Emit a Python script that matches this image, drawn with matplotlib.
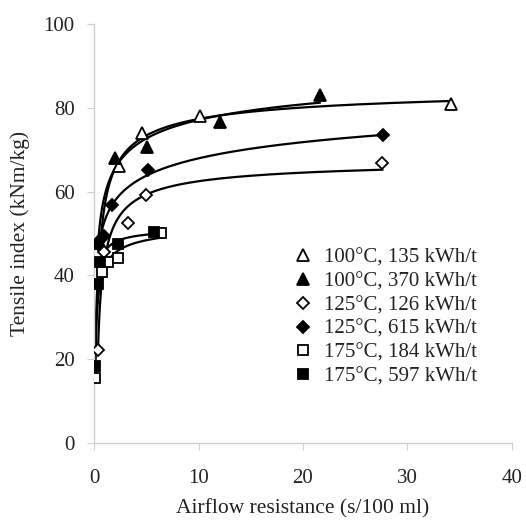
import numpy as np
import matplotlib
matplotlib.use("Agg")
import matplotlib.pyplot as plt

plt.rcParams['font.family'] = ['Liberation Serif', 'DejaVu Serif']

labels = ["100°C, 135 kWh/t", "100°C, 370 kWh/t", "125°C, 126 kWh/t",
          "125°C, 615 kWh/t", "175°C, 184 kWh/t", "175°C, 597 kWh/t"]
markers = ["^", "^", "D", "D", "s", "s"]
filled = [False, True, False, True, False, True]
msizes = [9, 9, 6.5, 6.5, 7.5, 7.5]

x_100_135 = [0.6, 2.4, 4.6, 10.1, 34.2]
y_100_135 = [47.7, 66.0, 74.0, 78.0, 81.0]
x_100_370 = [0.4, 2.0, 5.1, 12.1, 21.6]
y_100_370 = [48.0, 68.0, 70.6, 76.6, 83.0]
x_125_126 = [0.38, 0.9, 3.2, 5.0, 27.6]
y_125_126 = [22.2, 45.6, 52.5, 59.2, 66.8]
x_125_615 = [0.4, 0.95, 1.7, 5.2, 27.7]
y_125_615 = [48.0, 49.4, 56.8, 65.2, 73.5]
x_175_184 = [0.1, 0.74, 1.3, 2.3, 6.4]
y_175_184 = [15.4, 40.9, 43.3, 44.1, 50.0]
x_175_597 = [0.1, 0.35, 0.57, 2.3, 5.7]
y_175_597 = [18.4, 38.0, 43.3, 47.4, 50.4]

xs = [x_100_135, x_100_370, x_125_126, x_125_615, x_175_184, x_175_597]
ys = [y_100_135, y_100_370, y_125_126, y_125_615, y_175_184, y_175_597]


def fit_saturating(x, y):
    """Least squares fit of y = a - b * x**(-c), grid search on c."""
    best = None
    for c in np.linspace(0.1, 1.0, 300):
        A = np.column_stack([np.ones_like(x), -x ** (-c)])
        coef, *_ = np.linalg.lstsq(A, y, rcond=None)
        r = np.sum((A @ coef - y) ** 2)
        if best is None or r < best[0]:
            best = (r, coef[0], coef[1], c)
    return best[1:]


fig = plt.figure(figsize=(5.26, 5.20), dpi=100)
ax = fig.add_axes([0.179, 0.148, 0.794, 0.806])

handles = []
for x, y, m, f, ms, lab in zip(xs, ys, markers, filled, msizes, labels):
    x = np.array(x); y = np.array(y)
    a, b, c = fit_saturating(x, y)
    xf = np.linspace(x.min(), x.max(), 400)
    yf = a - b * xf ** (-c)
    keep = yf > 9
    ax.plot(xf[keep], yf[keep], color='black', lw=1.6, zorder=2)
    h, = ax.plot(x, y, linestyle='none', marker=m, markersize=ms,
                 markerfacecolor='black' if f else 'white',
                 markeredgecolor='black', markeredgewidth=1.3, zorder=3,
                 label=lab)
    handles.append(h)

ax.set_xlim(0, 40)
ax.set_ylim(0, 100)
ax.set_xticks([0, 10, 20, 30, 40])
ax.set_yticks([0, 20, 40, 60, 80, 100])
for s in ['top', 'right']:
    ax.spines[s].set_visible(False)
for s in ['left', 'bottom']:
    ax.spines[s].set_color('#d0d0d0')
    ax.spines[s].set_linewidth(1.0)
ax.tick_params(axis='both', colors='#d0d0d0', labelcolor='#222222',
               labelsize=15, length=5, direction='out')
ax.tick_params(axis='y', pad=9)
ax.tick_params(axis='x', pad=14)
ax.set_xlabel("Airflow resistance (s/100 ml)", fontsize=15.5, labelpad=8, color='#222222')
ax.set_ylabel("Tensile index (kNm/kg)", fontsize=15.5, labelpad=10, color='#222222')

leg = ax.legend(handles=handles, loc='lower left', bbox_to_anchor=(0.455, 0.11),
                frameon=False, fontsize=15, handlelength=0.8, handletextpad=0.6,
                labelspacing=0.2, borderpad=0)
for t in leg.get_texts():
    t.set_color('#222222')

fig.savefig("out.png", dpi=100)
